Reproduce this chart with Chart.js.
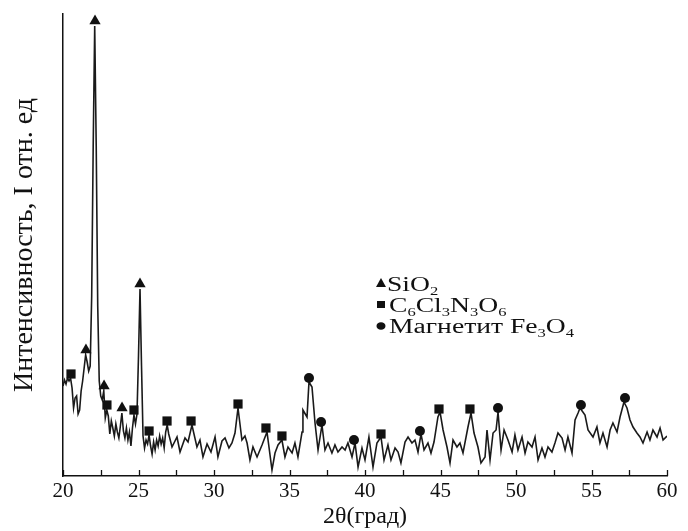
<!DOCTYPE html>
<html>
<head>
<meta charset="utf-8">
<script src="https://cdn.jsdelivr.net/npm/chart.js@4.4.1/dist/chart.umd.min.js"></script>
<style>
  body { margin: 0; background: #fff; }
</style>
</head>
<body>
<canvas id="xrd" width="688" height="531"></canvas>
<script>
// 2theta (deg) and intensity (rel. units)
var twoTheta = [
  20.0,20.1,20.2,20.3,20.4,20.5,20.6,20.7,20.8,20.9,
  21.0,21.1,21.2,21.3,21.4,21.5,21.6,21.7,21.8,21.9,
  22.0,22.1,22.2,22.3,22.4,22.5,22.6,22.7,22.8,22.9,
  23.0,23.1,23.2,23.3,23.4,23.5,23.6,23.7,23.8,23.9,
  24.0,24.1,24.2,24.3,24.4,24.5,24.6,24.7,24.8,24.9,
  25.0,25.1,25.2,25.3,25.4,25.5,25.6,25.7,25.8,25.9,
  26.0,26.1,26.2,26.3,26.4,26.5,26.6,26.7,26.8,26.9,
  27.0,27.22,27.55,27.75,28.08,28.28,28.54,28.87,29.07,29.27,
  29.54,29.8,30.07,30.26,30.53,30.73,30.99,31.19,31.39,31.59,
  31.85,32.05,32.19,32.38,32.58,32.85,33.18,33.51,33.84,34.04,
  34.24,34.5,34.7,34.9,35.17,35.36,35.56,35.83,35.89,36.16,
  36.29,36.49,36.69,36.89,37.15,37.35,37.55,37.81,38.01,38.21,
  38.48,38.68,38.87,39.14,39.34,39.54,39.8,40.0,40.26,40.53,
  40.79,41.06,41.26,41.52,41.72,41.99,42.19,42.38,42.65,42.85,
  43.11,43.31,43.51,43.71,43.91,44.17,44.37,44.57,44.83,44.97,
  45.17,45.43,45.63,45.83,46.09,46.29,46.49,46.82,47.02,47.22,
  47.48,47.68,47.95,48.08,48.28,48.48,48.68,48.81,49.01,49.21,
  49.47,49.74,49.93,50.13,50.4,50.6,50.79,51.06,51.26,51.46,
  51.72,51.92,52.12,52.38,52.58,52.78,53.05,53.25,53.44,53.71,
  53.91,54.11,54.24,54.57,54.77,55.1,55.36,55.56,55.76,56.03,
  56.23,56.42,56.69,56.89,57.15,57.35,57.55,57.75,58.01,58.21,
  58.41,58.68,58.87,59.07,59.34,59.54,59.74,60.0
];
var intensity = [
  90,96,92,98,95,98,88,68,78,80,
  62,66,85,95,108,121,114,105,110,180,
  330,450,330,170,95,80,76,85,58,66,
  60,42,55,48,40,52,44,38,50,63,
  45,38,48,36,44,30,48,61,52,62,
  120,187,110,40,28,36,32,41,30,22,
  34,26,36,30,40,32,38,28,44,51,
  42,29,39,24,38,34,51,29,36,19,
  32,24,39,19,35,38,28,33,43,68,
  36,40,33,16,29,19,31,44,6,23,
  31,36,19,29,23,33,19,44,66,59,
  94,89,53,26,51,26,33,23,31,24,
  29,26,33,19,33,9,28,16,39,9,
  33,39,16,31,16,28,24,13,34,39,
  33,36,24,42,26,33,23,34,59,64,
  46,29,13,36,29,33,23,49,63,43,
  29,13,19,46,16,43,46,64,26,46,
  36,24,41,26,39,23,34,29,39,16,
  28,19,29,24,33,43,38,26,39,23,
  56,63,68,61,46,39,49,33,43,29,
  46,53,44,59,74,68,56,49,43,39,
  33,44,36,46,39,48,36,40
];

// phase markers
var sio2X = [21.52, 22.12, 22.72, 23.91, 25.10];
var sio2Y = [126, 455, 90, 68, 192];
var cyanX = [20.53, 22.91, 24.70, 25.70, 26.89, 28.48, 31.59, 33.44, 34.50, 41.06, 44.90, 46.95];
var cyanY = [102, 71, 66, 45, 55, 55, 72, 48, 40, 42, 67, 67];
var magnX = [36.29, 37.09, 39.27, 43.64, 48.81, 54.30, 57.22];
var magnY = [98, 54, 36, 45, 68, 71, 78];

var xTicks = [20, 25, 30, 35, 40, 45, 50, 55, 60];

function pairs(xs, ys) {
  var out = [];
  for (var i = 0; i < xs.length; i++) out.push({x: xs[i], y: ys[i]});
  return out;
}

var serif = "'Liberation Serif', 'Times New Roman', serif";

// write text with subscript pieces: parts = [[text, isSub], ...]
// the source figure is stretched sideways, so text is widened by sx
function richText(ctx, parts, x, y, size, sx) {
  ctx.save();
  ctx.translate(x, y);
  ctx.scale(sx, 1);
  var cx = 0;
  for (var i = 0; i < parts.length; i++) {
    var sub = parts[i][1];
    ctx.font = (sub ? Math.round(size * 0.62) : size) + 'px ' + serif;
    ctx.fillText(parts[i][0], cx, sub ? size * 0.22 : 0);
    cx += ctx.measureText(parts[i][0]).width;
  }
  ctx.restore();
}

var extras = {
  id: 'extras',
  afterDatasetsDraw: function(chart) {
    var ctx = chart.ctx;
    var xs = chart.scales.x;
    var bottom = chart.chartArea.bottom;
    ctx.save();
    // inward tick marks every 2.5 deg
    ctx.strokeStyle = '#111';
    ctx.lineWidth = 1.3;
    for (var v = 20; v <= 60; v += 2.5) {
      var px = Math.round(xs.getPixelForValue(v)) + 0.5;
      ctx.beginPath();
      ctx.moveTo(px, bottom);
      ctx.lineTo(px, bottom - 6);
      ctx.stroke();
    }
    // legend
    ctx.fillStyle = '#111';
    ctx.textBaseline = 'alphabetic';
    var lx = 381, ly = 291, size = 20, sx = 1.38;
    ctx.beginPath();
    ctx.moveTo(lx, ly - 13);
    ctx.lineTo(lx + 5, ly - 4);
    ctx.lineTo(lx - 5, ly - 4);
    ctx.closePath();
    ctx.fill();
    richText(ctx, [['SiO', 0], ['2', 1]], lx + 6, ly, size, sx);
    ly += 21;
    ctx.fillRect(lx - 4, ly - 11, 8, 7);
    richText(ctx, [['C', 0], ['6', 1], ['Cl', 0], ['3', 1], ['N', 0], ['3', 1], ['O', 0], ['6', 1]], lx + 8, ly, size, sx);
    ly += 21;
    ctx.beginPath();
    ctx.ellipse(lx, ly - 7, 4.5, 3.8, 0, 0, Math.PI * 2);
    ctx.fill();
    richText(ctx, [['Магнетит Fe', 0], ['3', 1], ['O', 0], ['4', 1]], lx + 8, ly, size, sx);
    ctx.restore();
  }
};

var ctx = document.getElementById('xrd').getContext('2d');
new Chart(ctx, {
  type: 'scatter',
  data: {
    datasets: [
      {
        label: 'XRD',
        data: pairs(twoTheta, intensity),
        showLine: true,
        borderColor: '#1a1a1a',
        borderWidth: 1.6,
        pointRadius: 0,
        tension: 0,
        order: 2
      },
      {
        label: 'SiO2',
        data: pairs(sio2X, sio2Y),
        pointStyle: 'triangle',
        pointRadius: 6.5,
        backgroundColor: '#111',
        borderColor: '#111',
        borderWidth: 0,
        order: 1
      },
      {
        label: 'C6Cl3N3O6',
        data: pairs(cyanX, cyanY),
        pointStyle: 'rect',
        pointRadius: 6.5,
        backgroundColor: '#111',
        borderColor: '#111',
        borderWidth: 0,
        order: 1
      },
      {
        label: 'Fe3O4',
        data: pairs(magnX, magnY),
        pointStyle: 'circle',
        pointRadius: 5,
        backgroundColor: '#111',
        borderColor: '#111',
        borderWidth: 0,
        order: 1
      }
    ]
  },
  options: {
    responsive: false,
    animation: false,
    devicePixelRatio: 1,
    layout: { padding: { top: 14, right: 21, left: 0, bottom: 0 } },
    plugins: {
      legend: { display: false },
      tooltip: { enabled: false }
    },
    scales: {
      x: {
        type: 'linear',
        min: 20,
        max: 60,
        afterBuildTicks: function(scale) {
          scale.ticks = xTicks.map(function(v) { return {value: v}; });
        },
        afterFit: function(scale) { scale.height = 55; },
        grid: { display: false, drawTicks: false },
        border: { display: true, color: '#111', width: 1.5 },
        ticks: {
          color: '#111',
          padding: 3,
          maxRotation: 0,
          font: { family: serif, size: 21 }
        },
        title: {
          display: true,
          text: '2θ(град)',
          color: '#111',
          padding: { top: 0, bottom: 0 },
          font: { family: serif, size: 24 }
        }
      },
      y: {
        min: 0,
        max: 462,
        afterFit: function(scale) { scale.width = 63; },
        grid: { display: false, drawTicks: false },
        border: { display: true, color: '#111', width: 1.5 },
        ticks: { display: false },
        title: {
          display: true,
          text: 'Интенсивность, I отн. ед',
          color: '#111',
          padding: { top: 8, bottom: 0 },
          font: { family: serif, size: 28 }
        }
      }
    }
  },
  plugins: [extras]
});
</script>
</body>
</html>
